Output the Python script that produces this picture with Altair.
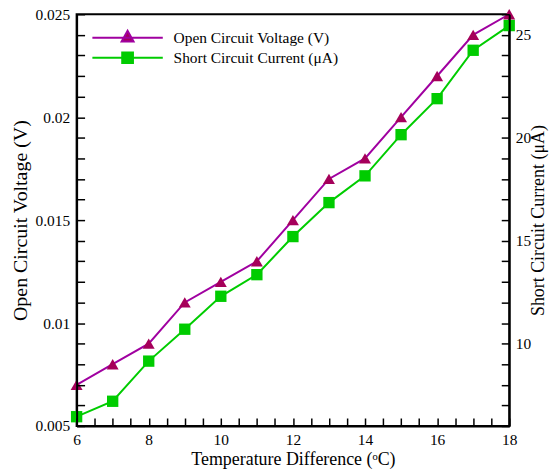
import altair as alt
import pandas as pd

# ---- data ----
temp = [6, 7, 8, 9, 10, 11, 12, 13, 14, 15, 16, 17, 18]
voltage = [0.007, 0.008, 0.009, 0.011, 0.012, 0.013, 0.015, 0.017, 0.018, 0.020, 0.022, 0.024, 0.025]
current = [6.45, 7.2, 9.15, 10.7, 12.3, 13.35, 15.2, 16.85, 18.15, 20.15, 21.9, 24.25, 25.45]
series_names = ["Open Circuit Voltage (V)", "Short Circuit Current (μA)"]

# tick positions (majors labelled, minors unlabelled)
x_ticks = [6 + 0.5 * i for i in range(25)]
v_ticks = [round(0.005 + 0.001 * i, 3) for i in range(21)]
c_ticks = list(range(6, 27))

df = pd.DataFrame({"temp": temp, "voltage": voltage, "current": current})
legend_df = pd.DataFrame({"series": series_names, "temp": [6, 6], "voltage": [0.01, 0.01]})

FONT = "Liberation Serif"
PURPLE = "#A000A0"
TRI = "#A5005A"
GREEN = "#00CC00"

common_axis = dict(
    domainColor="black", domainWidth=2, ticks=True, tickColor="black", tickWidth=1.5, tickOpacity=1,
    tickSize={"expr": "-8"}, zindex=1,
    labelFont=FONT, labelFontSize=15.5, labelColor="black",
    titleFont=FONT, titleFontWeight="normal", titleColor="black",
    grid=False, labelOverlap=False, labelFlush=False,
)

x_scale = alt.Scale(domain=[6, 18], nice=False, zero=False)
v_scale = alt.Scale(domain=[0.005, 0.025], nice=False, zero=False)
c_scale = alt.Scale(domain=[6, 26], nice=False, zero=False)

x_axis = alt.Axis(
    title="Temperature Difference (ᵒC)", values=x_ticks, titleFontSize=18,
    labelExpr="datum.value % 2 == 0 ? format(datum.value, 'd') : ''",
    labelPadding=15, titlePadding=2, **common_axis,
)
v_test = "abs(datum.value*200 - round(datum.value*200)) < 1e-6"
v_axis = alt.Axis(
    title="Open Circuit Voltage (V)", values=v_ticks, orient="left", titleFontSize=20,
    labelExpr=f"{v_test} ? format(datum.value, '~g') : ''",
    labelPadding=15, titlePadding=5, **common_axis,
)
c_axis = alt.Axis(
    title="Short Circuit Current (μA)", values=c_ticks, orient="right", titleAngle=270, titleFontSize=18,
    labelExpr="datum.value % 5 == 0 ? format(datum.value, 'd') : ''",
    labelPadding=14, titlePadding=17, **common_axis,
)

# each axis is drawn by one layer only; axes are resolved independently so nothing is merged
x_axis_enc = alt.X("temp:Q", scale=x_scale, axis=x_axis)
x_enc = alt.X("temp:Q", scale=x_scale, axis=None)
v_axis_enc = alt.Y("voltage:Q", scale=v_scale, axis=v_axis)
v_enc = alt.Y("voltage:Q", scale=v_scale, axis=None)
c_axis_enc = alt.Y("current:Q", scale=c_scale, axis=c_axis)
c_enc = alt.Y("current:Q", scale=c_scale, axis=None)

base = alt.Chart(df)

v_line = base.mark_line(color=PURPLE, strokeWidth=2).encode(x=x_axis_enc, y=v_axis_enc)
v_pts = base.mark_point(shape="triangle-up", filled=True, fill=TRI, size=144, opacity=1).encode(x=x_enc, y=v_enc)

tri_path = "M-5.9,0H5.9M-1,0.6L0,-1.2L1,0.6Z"
sq_path = "M-5.9,0H5.9M-0.9,-0.9H0.9V0.9H-0.9Z"
leg = dict(orient="none", legendX=13.5, legendY=16, padding=0, symbolOffset=30,
           labelOffset=38.5, labelFont=FONT, labelFontSize=15.5, labelColor="black",
           rowPadding=1, symbolSize=144, symbolStrokeWidth=2, labelLimit=400, title=None)
legend_layer = alt.Chart(legend_df).transform_filter("datum.temp < 0").mark_point(
    filled=True, size=144, strokeWidth=2, opacity=1
).encode(
    x=x_enc, y=v_enc,
    shape=alt.Shape("series:N", scale=alt.Scale(domain=series_names, range=[tri_path, sq_path]), legend=alt.Legend(**leg)),
    fill=alt.Fill("series:N", scale=alt.Scale(domain=series_names, range=[TRI, GREEN]), legend=alt.Legend(**leg)),
    stroke=alt.Stroke("series:N", scale=alt.Scale(domain=series_names, range=[PURPLE, GREEN]), legend=alt.Legend(**leg)),
)

c_line = base.mark_line(color=GREEN, strokeWidth=2).encode(x=x_enc, y=c_axis_enc)
c_pts = base.mark_point(shape="square", filled=True, fill=GREEN, size=130, opacity=1).encode(x=x_enc, y=c_enc)

left = alt.layer(v_line, v_pts, legend_layer).resolve_axis(x="independent", y="independent")
right = alt.layer(c_line, c_pts).resolve_axis(x="independent", y="independent")

chart = alt.layer(left, right).resolve_scale(y="independent").resolve_axis(
    x="independent", y="independent"
).properties(
    width=435, height=414,
    autosize=alt.AutoSizeParams(type="none"),
    padding={"left": 69, "top": 5, "right": 40, "bottom": 44},
    background="white",
).configure_view(stroke="black", strokeWidth=2)

chart.save("out.html", embed_options={"renderer": "svg", "actions": False})
